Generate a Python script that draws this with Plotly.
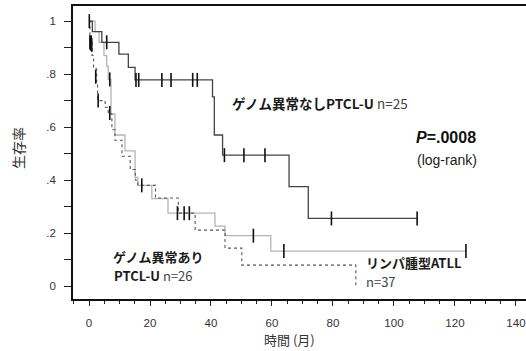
import plotly.graph_objects as go

# Curve A: ゲノム異常なし PTCL-U (n=25)
a_times = [1.1, 4.2, 9.8, 12.9, 15.1, 40.5, 41.1, 43.8, 65.6, 71.9]
a_surv = [0.96, 0.92, 0.875, 0.825, 0.778, 0.714, 0.57, 0.494, 0.375, 0.255]
a_end = 107.6
a_cens_t = [0.1, 5.8, 15.4, 16.3, 23.9, 26.9, 34.0, 35.5, 44.4, 50.8, 57.7, 79.5, 107.6]
a_cens_s = [1.0, 0.92, 0.778, 0.778, 0.778, 0.778, 0.778, 0.778, 0.494, 0.494, 0.494, 0.255, 0.255]

# Curve B: ゲノム異常あり PTCL-U (n=26)
b_times = [2.0, 3.3, 4.9, 5.8, 6.3, 7.2, 8.5, 11.8, 15.1, 16.0, 20.6, 25.9, 41.3, 44.6, 59.6]
b_surv = [0.96, 0.92, 0.87, 0.83, 0.78, 0.65, 0.57, 0.51, 0.41, 0.38, 0.33, 0.275, 0.226, 0.19, 0.132]
b_end = 123.6
b_cens_t = [6.8, 17.3, 29.0, 31.2, 32.9, 53.9, 63.9, 123.6]
b_cens_s = [0.78, 0.38, 0.275, 0.275, 0.275, 0.19, 0.132, 0.132]

# Curve C: リンパ腫型 ATLL (n=37)
c_times = [0.3, 1.0, 1.5, 2.5, 2.8, 5.3, 6.3, 7.5, 8.5, 10.8, 13.5, 15.2, 16.0, 21.8, 29.3, 34.8, 44.6, 50.1, 87.5]
c_surv = [0.92, 0.87, 0.82, 0.77, 0.70, 0.675, 0.65, 0.59, 0.55, 0.49, 0.44, 0.40, 0.38, 0.332, 0.275, 0.211, 0.143, 0.079, 0.0]
c_cens_t = [0.3, 0.5, 0.7, 0.9, 2.2, 3.0, 6.8]
c_cens_s = [0.92, 0.915, 0.92, 0.91, 0.79, 0.70, 0.653]

x_ticks = [0, 20, 40, 60, 80, 100, 120, 140]
y_ticks = [0, 0.1, 0.2, 0.3, 0.4, 0.5, 0.6, 0.7, 0.8, 0.9, 1.0]
y_ticktext = ["0", "", ".2", "", ".4", "", ".6", "", ".8", "", "1"]


def km(times, surv, end=None):
    xs = [0] + list(times)
    ys = [1.0] + list(surv)
    if end is not None:
        xs.append(end)
        ys.append(surv[-1])
    return xs, ys


fig = go.Figure()

xa, ya = km(a_times, a_surv, a_end)
xb, yb = km(b_times, b_surv, b_end)
xc, yc = km(c_times, c_surv)

fig.add_trace(go.Scatter(x=xb, y=yb, mode="lines", line=dict(shape="hv", color="#b4b4b4", width=1.3)))
fig.add_trace(go.Scatter(x=xc, y=yc, mode="lines", line=dict(shape="hv", color="#555555", width=1.1, dash="dot")))
fig.add_trace(go.Scatter(x=xa, y=ya, mode="lines", line=dict(shape="hv", color="#444444", width=1.3)))

for ct, cs in [(a_cens_t, a_cens_s), (b_cens_t, b_cens_s), (c_cens_t, c_cens_s)]:
    fig.add_trace(go.Scatter(x=ct, y=cs, mode="markers",
                             marker=dict(symbol="line-ns-open", size=10, color="#111111",
                                         line=dict(color="#111111", width=1.6))))

cjk = "Noto Sans CJK JP"
lat = "Liberation Sans, Arial, sans-serif"

PL, PR, PT, PB = 73, 526, 6, 299


def px(x):
    return (x - PL) / (PR - PL)


def py(y):
    return (PB - y) / (PB - PT)


NRM = "<span style='color:#444'>"

annos = [
    (230, 103, 13.5, "<b>ゲノム異常なしPTCL-U</b>" + NRM + " n=25</span>"),
    (111, 256, 13, "<b>ゲノム異常あり</b>"),
    (112, 275, 13, "<b>PTCL-U</b>" + NRM + " n=26</span>"),
    (364, 262, 13, "<b>リンパ腫型ATLL</b>"),
    (364, 281.5, 13, NRM + "n=37</span>"),
]
annotations = []
for ax_, ay_, fs, txt in annos:
    annotations.append(dict(
        xref="paper", yref="paper", x=px(ax_), y=py(ay_),
        xanchor="left", yanchor="middle", align="left", text=txt, showarrow=False,
        font=dict(family=cjk, size=fs, color="#1a1a1a"),
    ))
annotations.append(dict(xref="paper", yref="paper", x=px(446), y=py(137),
                        xanchor="center", yanchor="middle", showarrow=False,
                        text="<b><i>P</i>=.0008</b>",
                        font=dict(family=lat, size=16, color="#111111")))
annotations.append(dict(xref="paper", yref="paper", x=px(447), y=py(160),
                        xanchor="center", yanchor="middle", showarrow=False,
                        text="(log-rank)",
                        font=dict(family=lat, size=14, color="#222222")))
annotations.append(dict(xref="paper", yref="paper", x=px(289), y=py(339),
                        xanchor="center", yanchor="middle", showarrow=False,
                        text="時間 (月)",
                        font=dict(family=cjk, size=13, color="#333333")))
annotations.append(dict(xref="paper", yref="paper", x=px(18), y=py(148),
                        xanchor="center", yanchor="middle", showarrow=False,
                        text="生存率", textangle=-90,
                        font=dict(family=cjk, size=14, color="#333333")))

fig.update_layout(
    width=526, height=351,
    margin=dict(l=PL, r=526 - PR, t=PT, b=351 - PB),
    paper_bgcolor="white", plot_bgcolor="white",
    showlegend=False,
    annotations=annotations,
    xaxis=dict(range=[-5.25, 143.3], tickvals=x_ticks, ticks="outside", ticklen=5,
               tickcolor="#222", tickwidth=1, showline=True, linecolor="#111", linewidth=1.5,
               mirror=True, showgrid=False, zeroline=False, ticklabelstandoff=7,
               minor=dict(dtick=5, tick0=0, ticks="outside", ticklen=3, tickcolor="#222", showgrid=False),
               tickfont=dict(family=lat, size=11.5, color="#333333")),
    yaxis=dict(range=[-0.049, 1.057], tickvals=y_ticks, ticktext=y_ticktext, ticks="outside",
               ticklen=7, tickcolor="#222", tickwidth=1, showline=True, linecolor="#111",
               linewidth=1.5, showgrid=False, zeroline=False, ticklabelstandoff=6,
               tickfont=dict(family=lat, size=11.5, color="#333333")),
)

fig.write_html("out.html")
